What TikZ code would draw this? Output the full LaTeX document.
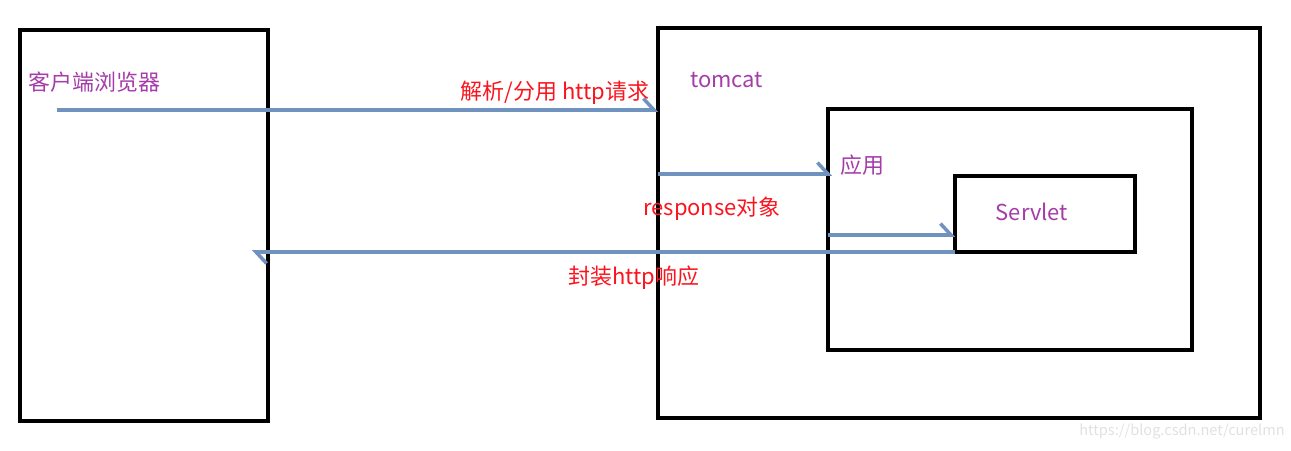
\documentclass[tikz,border=0pt]{standalone}
\usepackage{fontspec}
\setmainfont{Noto Sans CJK SC}
\usetikzlibrary{arrows.meta,positioning}
\definecolor{linkblue}{RGB}{112,146,190}
\definecolor{labelpurple}{RGB}{165,60,170}
\definecolor{notered}{RGB}{250,20,30}
\definecolor{markgray}{RGB}{225,225,225}

\begin{document}
\begin{tikzpicture}[x=0.02cm,y=-0.02cm,
  box/.style={draw,line width=2pt,inner sep=0pt,outer sep=0pt,anchor=north west},
  flow/.style={draw=linkblue,line width=2pt,-{Straight Barb[harpoon,length=6pt,width=13pt]}},
  boxlabel/.style={text=labelpurple,font=\fontsize{12.5}{15}\selectfont,inner sep=0pt},
  steplabel/.style={text=notered,font=\fontsize{12.5}{15}\selectfont,inner sep=0pt}]
  \useasboundingbox (0,0) rectangle (1291,450);
  \node[box,minimum width=4.96cm,minimum height=7.82cm] (browser) at (20,30) {};
  \node[box,minimum width=12.04cm,minimum height=7.8cm] (tomcat) at (658,28) {};
  \node[box,minimum width=7.28cm,minimum height=4.82cm] (app) at (828,109) {};
  \node[box,minimum width=3.6cm,minimum height=1.52cm] (servlet) at (955,176) {};
  \node[boxlabel,anchor=west] (browsername) at (28,82) {客户端浏览器};
  \node[boxlabel,anchor=west] (tomcatname) at (690,80) {tomcat};
  \node[boxlabel,anchor=west] (appname) at (840,165) {应用};
  \node[boxlabel] (servletname) at (1032,212) {Servlet};
  \coordinate (reqstart) at (57,110);
  \coordinate (respend) at (252,252);
  \draw[flow] (reqstart) -- (reqstart -| tomcat.west);
  \draw[flow] (tomcat.west |- 0,174) -- ([xshift=0.08cm]app.west |- 0,174);
  \draw[flow] (app.west |- 0,235) -- (servlet.west |- 0,235);
  \draw[flow] (servlet.west |- 0,252) -- (respend);
  \node[steplabel] (parse) at (555,93) {解析/分用 http请求};
  \node[steplabel] (respobj) at (712,209) {response对象};
  \node[steplabel] (wrap) at (634,278) {封装http响应};
  \node[text=markgray,font=\fontsize{8.3}{10}\selectfont,inner sep=0pt] (mark) at (1182,432) {https://blog.csdn.net/curelmn};
\end{tikzpicture}
\end{document}
